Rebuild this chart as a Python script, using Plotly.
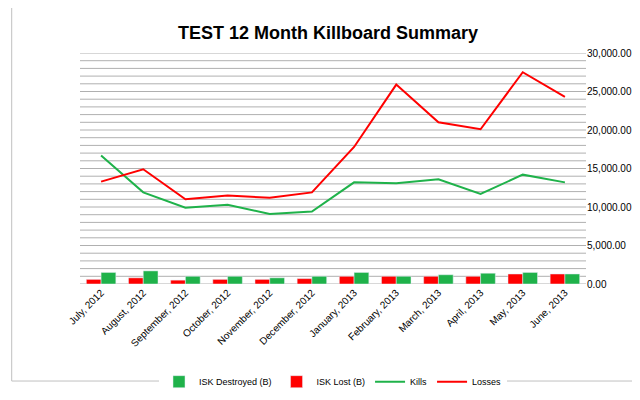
import plotly.graph_objects as go

months = ["July, 2012","August, 2012","September, 2012","October, 2012","November, 2012","December, 2012",
          "January, 2013","February, 2013","March, 2013","April, 2013","May, 2013","June, 2013"]
isk_destroyed = [1500,1700,1000,1000,800,1000,1500,1000,1200,1400,1500,1300]
isk_lost = [600,800,500,600,600,700,1000,1000,1000,1000,1300,1300]
kills = [16700,11900,9900,10300,9100,9400,13200,13100,13600,11700,14200,13200]
losses = [13300,14900,11000,11500,11200,11900,17800,25900,21000,20100,27500,24300]

fig = go.Figure()
fig.add_bar(x=months, y=isk_lost, name="ISK Lost (B)", marker_color="#ff0000", legendrank=2)
fig.add_bar(x=months, y=isk_destroyed, name="ISK Destroyed (B)", marker_color="#1fb24a", legendrank=1)
fig.add_scatter(x=months, y=kills, name="Kills", mode="lines", line=dict(color="#1fb24a", width=2), legendrank=3)
fig.add_scatter(x=months, y=losses, name="Losses", mode="lines", line=dict(color="#ff0000", width=2), legendrank=4)

fig.update_layout(
    width=640, height=400, paper_bgcolor="white", plot_bgcolor="white",
    title=dict(text="<b>TEST 12 Month Killboard Summary</b>", x=0.5, y=0.955, font=dict(size=18, color="black", family="Liberation Sans")),
    font=dict(family="Liberation Sans", size=10, color="black"),
    margin=dict(l=72, r=62, t=45, b=107),
    barmode="group", bargap=0.3, bargroupgap=0,
    legend=dict(orientation="h", x=0.5, xanchor="center", y=-0.36, font=dict(size=9)),
    showlegend=True,
    shapes=[dict(type="rect", xref="paper", yref="paper", x0=-0.135, x1=1.12, y0=-0.42, y1=1.2,
                 line=dict(color="#c0c0c0", width=1))],
)
fig.update_yaxes(side="right", range=[0,30000], tickvals=list(range(0,30001,5000)),
                 ticktext=[f"{v:,.2f}" for v in range(0,30001,5000)], showgrid=False, zeroline=False,
                 showline=False, ticks="")
for v in range(0,30001,1000):
    fig.add_hline(y=v, line=dict(color="#b0b0b0", width=1), layer="below")
fig.update_xaxes(tickangle=-45, showline=False, ticks="", showgrid=False, tickfont=dict(size=10))
fig.write_html("out.html")
